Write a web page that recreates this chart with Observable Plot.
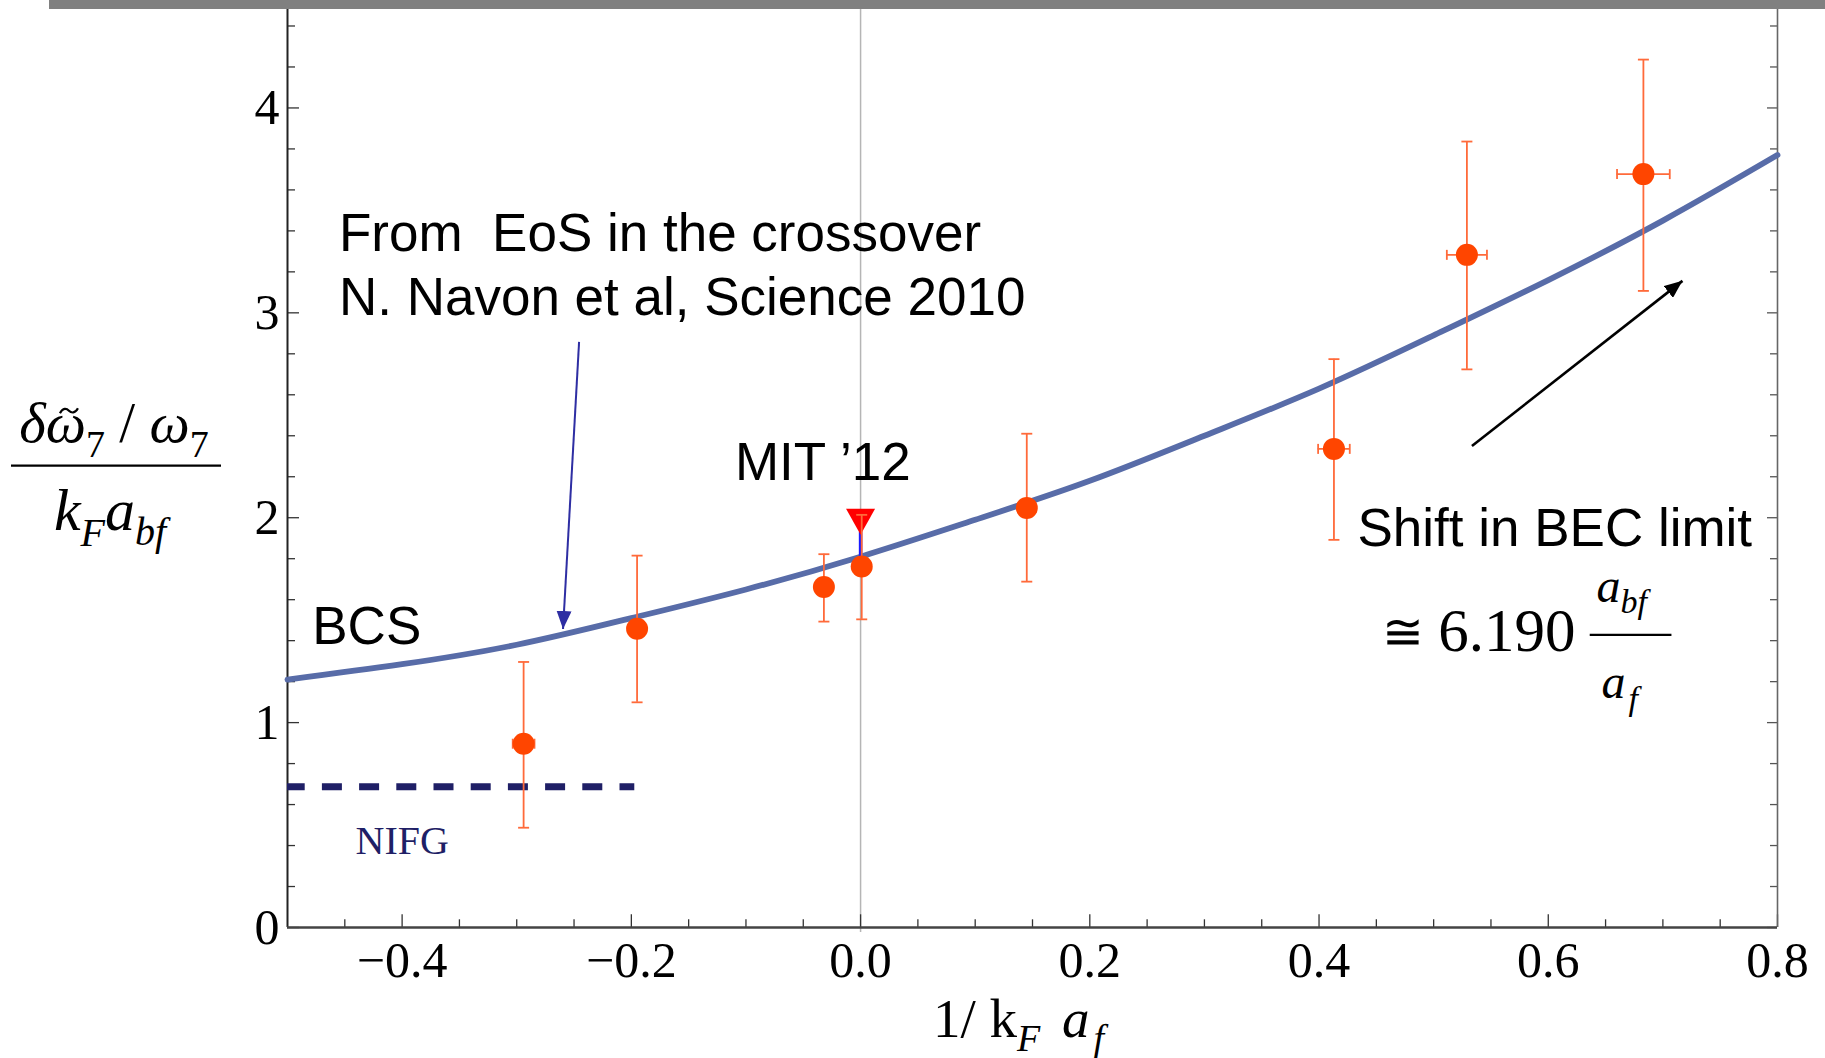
<!DOCTYPE html>
<html><head><meta charset="utf-8">
<script src="https://cdn.jsdelivr.net/npm/d3@7"></script>
<script src="https://cdn.jsdelivr.net/npm/@observablehq/plot@0.6"></script>
<style>
html,body{margin:0;padding:0;background:#fff;}
#wrap{position:relative;width:1825px;height:1058px;overflow:hidden;background:#fff;}
#bar{position:absolute;left:49px;top:0;width:1776px;height:9px;background:#808080;}
</style></head>
<body><div id="wrap"><div id="chart"></div><div id="bar"></div></div>
<script>
const SERIF = "'Liberation Serif','Times New Roman',Times,serif";
const SANS = "'Liberation Sans',Arial,Helvetica,sans-serif";

// measured data points (1/kF af, shift) with error bars
const pointX    = [-0.294, -0.195, -0.032, 0.001, 0.145, 0.413, 0.529, 0.683];
const pointY    = [0.897, 1.458, 1.662, 1.762, 2.048, 2.336, 3.283, 3.677];
const pointLo   = [0.487, 1.099, 1.493, 1.504, 1.688, 1.892, 2.724, 3.107];
const pointHi   = [1.296, 1.815, 1.822, 2.014, 2.410, 2.774, 3.836, 4.236];
const pointXErr = [0.0095, 0, 0, 0, 0, 0.0138, 0.0175, 0.023];

// theory curve (EoS in the crossover)
const curveX = [-0.5, -0.4, -0.3, -0.2, -0.1, 0.0, 0.1, 0.2, 0.3, 0.4, 0.5, 0.6, 0.7, 0.8];
const curveY = [1.21, 1.285, 1.38, 1.51, 1.65, 1.81, 1.99, 2.18, 2.40, 2.63, 2.89, 3.16, 3.45, 3.77];

// MIT '12 point
const mitX = [0.0];
const mitY = [2.0];
const mitBlueLo = [1.80];
const mitBlueHi = [1.93];

// NIFG level
const nifgY = [0.687];
const nifgX = [-0.5, -0.197];

// ticks
const xTicks = [-0.4, -0.2, 0.0, 0.2, 0.4, 0.6, 0.8];
const xMinorTicks = [-0.45, -0.35, -0.3, -0.25, -0.15, -0.1, -0.05, 0.05, 0.1, 0.15, 0.25, 0.3, 0.35, 0.45, 0.5, 0.55, 0.65, 0.7, 0.75];
const yTicks = [0, 1, 2, 3, 4];
const yMinorTicks = [0.2, 0.4, 0.6, 0.8, 1.2, 1.4, 1.6, 1.8, 2.2, 2.4, 2.6, 2.8, 3.2, 3.4, 3.6, 3.8, 4.2, 4.4];

// annotation arrows (data coordinates)
const arrowX1 = [-0.2456, 0.5334];
const arrowY1 = [2.858, 2.350];
const arrowX2 = [-0.2596, 0.7171];
const arrowY2 = [1.457, 3.156];
const arrowColor = ["#2e2ea3", "#000000"];

// annotation texts
const noteText = ["From\u00a0 EoS in the crossover\nN. Navon et al, Science 2010", "BCS", "MIT \u201912", "Shift in BEC limit"];
const noteX = [-0.4551, -0.4784, -0.1096, 0.4335];
const noteY = [2.990, 1.382, 2.185, 1.862];

const nifgLabel = ["NIFG"];
const nifgLabelX = [-0.4406];
const nifgLabelY = [0.357];

// BEC-limit formula anchors
const congText = ["\u2245"];
const congX = [0.4545], congY = [1.357];
const approxText = ["6.190"];
const approxX = [0.5040];
const approxY = [1.350];
const fracLineY = [1.428];
const fracLineX = [0.6366, 0.7079];
const fracNumX = [0.6425], fracNumY = [1.5855];
const fracDenX = [0.6468], fracDenY = [1.1154];

const pts = pointX.map((x, i) => ({x, y: pointY[i], lo: pointLo[i], hi: pointHi[i], ex: pointXErr[i]}));
const hpts = pts.filter(d => d.ex > 0);
const curve = curveX.map((x, i) => ({x, y: curveY[i]}));
const mit = mitX.map((x, i) => ({x, y: mitY[i]}));
const arrows = arrowX1.map((x, i) => ({x1: x, y1: arrowY1[i], x2: arrowX2[i], y2: arrowY2[i], c: arrowColor[i]}));
const notes = noteText.map((t, i) => ({t, x: noteX[i], y: noteY[i]}));

const W = 1825, H = 1058, mL = 287, mR = 48, mT = 5, mB = 131;
const fw = W - mL - mR, fh = H - mT - mB;
const EB = "#ff6a3a";

const hCap = {draw(ctx) { ctx.moveTo(-5.5, 0); ctx.lineTo(5.5, 0); }};
const vCap = {draw(ctx) { ctx.moveTo(0, -5); ctx.lineTo(0, 5); }};
const downTri = {draw(ctx) {
  ctx.moveTo(0, 17); ctx.lineTo(-14.5, -9); ctx.lineTo(14.5, -9); ctx.closePath();
}};

const plot = Plot.plot({
  width: W, height: H,
  marginLeft: mL, marginRight: mR, marginTop: mT, marginBottom: mB,
  style: {fontFamily: SERIF, fontSize: "50px", background: "#fff", color: "#000", overflow: "visible"},
  x: {domain: [-0.5, 0.8], ticks: xTicks, tickFormat: d3.format(".1f"), tickSize: 0, tickPadding: 13.5, label: null},
  y: {domain: [0, 4.5], ticks: yTicks, tickFormat: d3.format("d"), tickSize: 0, tickPadding: 8, label: null},
  marks: [
    Plot.ruleX([0], {stroke: "#b5b5b5", strokeWidth: 1.5, insetBottom: -5}),
    Plot.ruleX(xMinorTicks, {stroke: "#333", strokeWidth: 1.3, insetTop: fh - 7.7}),
    Plot.ruleX(xTicks, {stroke: "#333", strokeWidth: 1.3, insetTop: fh - 12.7}),
    Plot.ruleY(yMinorTicks, {stroke: "#333", strokeWidth: 1.3, insetRight: fw - 8}),
    Plot.ruleY(yTicks, {stroke: "#333", strokeWidth: 1.3, insetRight: fw - 12}),
    Plot.ruleY(yMinorTicks, {stroke: "#555", strokeWidth: 1.3, insetLeft: fw - 7}),
    Plot.ruleY(yTicks, {stroke: "#555", strokeWidth: 1.3, insetLeft: fw - 10}),
    Plot.ruleX([-0.5], {stroke: "#222", strokeWidth: 2}),
    Plot.ruleX([0.8], {stroke: "#666", strokeWidth: 1.6}),
    Plot.ruleY([0], {stroke: "#444", strokeWidth: 2.4}),
    Plot.ruleY(nifgY, {x1: nifgX[0], x2: nifgX[1], stroke: "#1f1f66", strokeWidth: 7, strokeDasharray: "20,17.2", strokeDashoffset: 2.3}),
    Plot.line(curve, {x: "x", y: "y", curve: "natural", stroke: "#586ca8", strokeWidth: 5.8}),
    Plot.ruleX(mitX, {y1: mitBlueLo[0], y2: mitBlueHi[0], stroke: "#1a1aff", strokeWidth: 3.5}),
    Plot.dot(mit, {x: "x", y: "y", symbol: downTri, r: 10, fill: "#ff0000", stroke: "none"}),
    Plot.ruleX(pts, {x: "x", y1: "lo", y2: "hi", stroke: EB, strokeWidth: 1.8}),
    Plot.dot(pts, {x: "x", y: "lo", symbol: hCap, r: 3, fill: "none", stroke: EB, strokeWidth: 1.8}),
    Plot.dot(pts, {x: "x", y: "hi", symbol: hCap, r: 3, fill: "none", stroke: EB, strokeWidth: 1.8}),
    Plot.ruleY(hpts, {y: "y", x1: d => d.x - d.ex, x2: d => d.x + d.ex, stroke: EB, strokeWidth: 1.8}),
    Plot.dot(hpts, {x: d => d.x - d.ex, y: "y", symbol: vCap, r: 3, fill: "none", stroke: EB, strokeWidth: 1.8}),
    Plot.dot(hpts, {x: d => d.x + d.ex, y: "y", symbol: vCap, r: 3, fill: "none", stroke: EB, strokeWidth: 1.8}),
    Plot.dot(pts, {x: "x", y: "y", r: 11, fill: "#ff4500", stroke: "none"}),
    Plot.link([arrows[0]], {x1: "x1", y1: "y1", x2: "x2", y2: "y2", stroke: arrowColor[0], strokeWidth: 2}),
    Plot.link([arrows[1]], {x1: "x1", y1: "y1", x2: "x2", y2: "y2", stroke: arrowColor[1], strokeWidth: 2.6}),
    Plot.text(notes, {x: "x", y: "y", text: "t", fontFamily: SANS, fontSize: 53, textAnchor: "start", lineAnchor: "bottom", lineHeight: 1.21, fill: "#000"}),
    Plot.text(nifgLabel, {x: (d, i) => nifgLabelX[i], y: (d, i) => nifgLabelY[i], text: d => d, fontFamily: SERIF, fontSize: 40, textAnchor: "start", lineAnchor: "bottom", fill: "#1f1f66"}),
    Plot.text(congText, {x: (d, i) => congX[i], y: (d, i) => congY[i], text: d => d, fontFamily: SERIF, fontSize: 50, textAnchor: "start", lineAnchor: "bottom", fill: "#000"}),
    Plot.text(approxText, {x: (d, i) => approxX[i], y: (d, i) => approxY[i], text: d => d, fontFamily: SERIF, fontSize: 61, textAnchor: "start", lineAnchor: "bottom", fill: "#000"}),
    Plot.ruleY(fracLineY, {x1: fracLineX[0], x2: fracLineX[1], stroke: "#000", strokeWidth: 2.2})
  ]
});

document.getElementById("chart").appendChild(plot);

const svg = d3.select(plot);
const sx = plot.scale("x"), sy = plot.scale("y");

// filled arrowheads
const defs = svg.append("defs");
arrowColor.forEach((c, i) => {
  defs.append("marker").attr("id", "ah" + i).attr("viewBox", "0 0 18 15")
    .attr("refX", 18).attr("refY", 7.5).attr("markerWidth", 18).attr("markerHeight", 15)
    .attr("markerUnits", "userSpaceOnUse").attr("orient", "auto")
    .append("path").attr("d", "M0,0L18,7.5L0,15Z").attr("fill", c);
});
svg.selectAll('g[aria-label="link"]').nodes().forEach((g, i) => {
  d3.select(g).selectAll("path").attr("marker-end", `url(#ah${i})`);
});

// rich (sub/superscripted) text helper
function rich(x, y, parts, anchor = "start") {
  const t = svg.append("text").attr("x", x).attr("y", y).attr("text-anchor", anchor)
    .attr("font-family", SERIF).attr("fill", "#000").style("white-space", "pre");
  let shift = 0;
  for (const p of parts) {
    const s = t.append("tspan").attr("font-size", p.size).text(p.t);
    if (p.italic) s.attr("font-style", "italic");
    const target = p.sub || 0;
    if (target !== shift) { s.attr("dy", target - shift); shift = target; }
    if (p.dx) s.attr("dx", p.dx);
  }
  return t;
}

// BEC-limit fraction a_bf / a_f
rich(sx.apply(fracNumX[0]), sy.apply(fracNumY[0]), [
  {t: "a", italic: true, size: 48}, {t: "bf", italic: true, size: 34, sub: 11}
]);
rich(sx.apply(fracDenX[0]), sy.apply(fracDenY[0]), [
  {t: "a", italic: true, size: 48}, {t: "f", italic: true, size: 34, sub: 12, dx: 3}
]);

// y-axis label: (δω̃7 / ω7) / (kF abf)
const numBaseline = 441.7;
const num = rich(114, numBaseline, [
  {t: "\u03b4\u03c9", italic: true, size: 57},
  {t: "7", size: 38, sub: 15},
  {t: " / ", size: 57, sub: 0},
  {t: "\u03c9", italic: true, size: 57},
  {t: "7", size: 38, sub: 15}
], "middle");
// tilde accent over the first omega, drawn as a small wave
let tcx = 63;
try { const e = num.node().getExtentOfChar(1); tcx = e.x + e.width * 0.5 + 3; } catch (err) {}
const tcy = numBaseline - 31;
svg.append("path")
  .attr("d", `M${tcx - 9},${tcy + 2.5} C${tcx - 6},${tcy - 3} ${tcx - 2.5},${tcy - 2.5} ${tcx},${tcy} S${tcx + 6},${tcy + 3} ${tcx + 9},${tcy - 2.5}`)
  .attr("fill", "none").attr("stroke", "#000").attr("stroke-width", 2.2);
svg.append("line").attr("x1", 11).attr("x2", 221).attr("y1", 465.7).attr("y2", 465.7)
  .attr("stroke", "#000").attr("stroke-width", 2.2);
rich(110, 530, [
  {t: "k", italic: true, size: 60},
  {t: "F", italic: true, size: 40, sub: 16},
  {t: "a", italic: true, size: 60, sub: 0},
  {t: "bf", italic: true, size: 40, sub: 15}
], "middle");

// x-axis label: 1/ kF af
rich(933, 1037.3, [
  {t: "1/ k", size: 55},
  {t: "F", italic: true, size: 38, sub: 14},
  {t: " ", size: 55, sub: 0},
  {t: "a", italic: true, size: 55, dx: 8},
  {t: "f", italic: true, size: 38, sub: 14, dx: 4}
]);
</script>
</body></html>
